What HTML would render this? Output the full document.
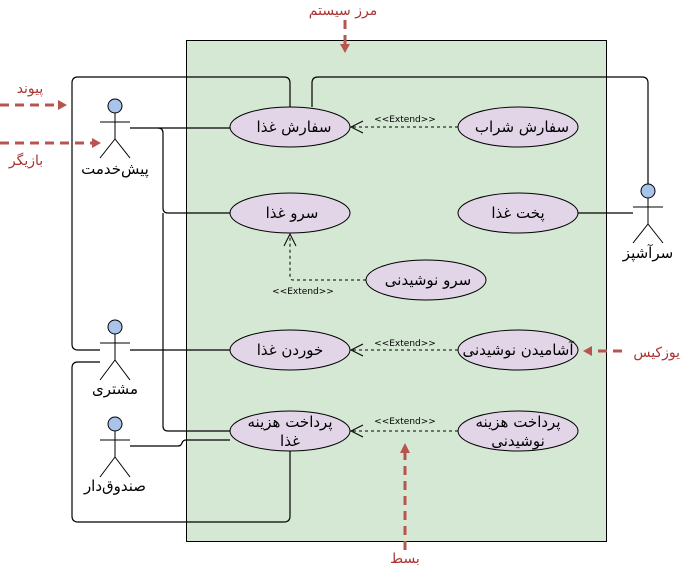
<!DOCTYPE html>
<html><head><meta charset="utf-8"><style>
html,body{margin:0;padding:0;background:#fff;}
svg{display:block;}
text{font-family:"DejaVu Sans","Liberation Sans","Noto Sans CJK SC",sans-serif;}
</style></head><body>
<svg width="682" height="571" viewBox="0 0 682 571" xmlns="http://www.w3.org/2000/svg">
<rect x="186.5" y="40.5" width="420" height="501" fill="#d5e8d4" stroke="#000" stroke-width="1"/>

<g fill="none" stroke="#000" stroke-width="1.2">
<path d="M130 128 H230"/>
<path d="M158 128 Q163 128 163 133 V208 Q163 213 168 213 H230"/>
<path d="M163 213 V426 Q163 431 168 431 H230"/>
<path d="M290 107 V83 Q290 77 284 77 H78 Q72 77 72 83 V344 Q72 350 78 350 H100"/>
<path d="M130 350 H230"/>
<path d="M100 362 H78 Q72 362 72 368 V516 Q72 522 78 522 H284 Q290 522 290 516 V451"/>
<path d="M130 446 H178 Q181 446 182 443 Q183 440 186 440 H230"/>
<path d="M312 107 V83 Q312 77 318 77 H642 Q648 77 648 83 V184"/>
<path d="M578 213 H633"/>
</g>

<g fill="none" stroke="#000" stroke-width="1" stroke-dasharray="3,3">
<path d="M458 127 H351"/>
<path d="M366 280 H293 Q290 280 290 277 V234"/>
<path d="M458 350 H351"/>
<path d="M458 431 H351"/>
</g>
<g fill="none" stroke="#000" stroke-width="1">
<path d="M363 121 L351 127 L363 133"/>
<path d="M363 344 L351 350 L363 356"/>
<path d="M363 425 L351 431 L363 437"/>
<path d="M284 246 L290 234 L296 246"/>
</g>
<g font-size="9" fill="#000" text-anchor="middle">
<text x="405" y="122">&lt;&lt;Extend&gt;&gt;</text>
<text x="303" y="294">&lt;&lt;Extend&gt;&gt;</text>
<text x="405" y="346">&lt;&lt;Extend&gt;&gt;</text>
<text x="405" y="424">&lt;&lt;Extend&gt;&gt;</text>
</g>

<g fill="#e1d5e7" stroke="#000" stroke-width="1">
<ellipse cx="290" cy="127" rx="60" ry="20"/>
<ellipse cx="518" cy="127" rx="60" ry="20"/>
<ellipse cx="290" cy="213" rx="60" ry="20"/>
<ellipse cx="518" cy="213" rx="60" ry="20"/>
<ellipse cx="426" cy="280" rx="60" ry="20"/>
<ellipse cx="290" cy="350" rx="60" ry="20"/>
<ellipse cx="518" cy="350" rx="60" ry="20"/>
<ellipse cx="290" cy="431" rx="60" ry="20"/>
<ellipse cx="518" cy="431" rx="60" ry="20"/>
</g>
<g font-size="15" fill="#000" text-anchor="middle">
<text x="294" y="132">سفارش غذا</text>
<text x="522" y="132">سفارش شراب</text>
<text x="292" y="218">سرو غذا</text>
<text x="518" y="218">پخت غذا</text>
<text x="428" y="285">سرو نوشیدنی</text>
<text x="290" y="355">خوردن غذا</text>
<text x="518" y="355">آشامیدن نوشیدنی</text>
<text x="290" y="427">پرداخت هزینه</text>
<text x="290" y="446">غذا</text>
<text x="518" y="427">پرداخت هزینه</text>
<text x="518" y="446">نوشیدنی</text>
</g>

<g stroke="#000" stroke-width="1" fill="none">
<g transform="translate(115,106)">
<circle cx="0" cy="0" r="7" fill="#a9c4eb"/>
<path d="M0 7 V33 M-15 16 H15 M0 33 L-15 52 M0 33 L15 52"/>
</g>
<g transform="translate(115,327)">
<circle cx="0" cy="0" r="7" fill="#a9c4eb"/>
<path d="M0 7 V33 M-15 16 H15 M0 33 L-15 53 M0 33 L15 53"/>
</g>
<g transform="translate(115,424)">
<circle cx="0" cy="0" r="7" fill="#a9c4eb"/>
<path d="M0 7 V33 M-15 16 H15 M0 33 L-15 53 M0 33 L15 53"/>
</g>
<g transform="translate(648,191)">
<circle cx="0" cy="0" r="7" fill="#a9c4eb"/>
<path d="M0 7 V33 M-15 16 H15 M0 33 L-15 52 M0 33 L15 52"/>
</g>
</g>
<g font-size="15" fill="#000" text-anchor="middle">
<text x="115" y="174">پیش‌خدمت</text>
<text x="115" y="394">مشتری</text>
<text x="115" y="491">صندوق‌دار</text>
<text x="648" y="258">سرآشپز</text>
</g>

<g stroke="#b85450" stroke-width="3" stroke-dasharray="9,6" fill="none">
<path d="M345 20 V44"/>
<path d="M0 105 H58"/>
<path d="M0 143 H92"/>
<path d="M622 351 H591"/>
<path d="M405 550 V453"/>
</g>
<g fill="#b85450">
<path d="M340 44 L350 44 L345 53 Z"/>
<path d="M58 100 L58 110 L67 105 Z"/>
<path d="M92 138 L92 148 L101 143 Z"/>
<path d="M592 346 L592 356 L583 351 Z"/>
<path d="M400 453 L410 453 L405 443 Z"/>
</g>
<g font-size="14" fill="#a33" text-anchor="middle">
<text x="343" y="15">مرز سیستم</text>
<text x="30" y="93">پیوند</text>
<text x="26" y="165">بازیگر</text>
<text x="680" y="357" text-anchor="end">یوزکیس</text>
<text x="405" y="563">بسط</text>
</g>
</svg>
</body></html>
